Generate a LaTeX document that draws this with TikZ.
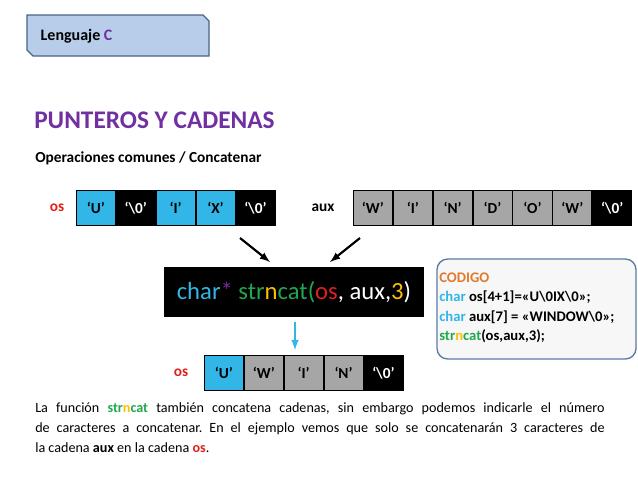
\documentclass[tikz,border=0pt]{standalone}
\usepackage{fontspec}
\setmainfont{Carlito}
\usetikzlibrary{positioning,shapes.misc}
\frenchspacing
\definecolor{cyanC}{HTML}{31B6E7}
\definecolor{grayC}{HTML}{A6A6A6}
\definecolor{purpleC}{HTML}{7030A0}
\definecolor{redC}{HTML}{E0201B}
\definecolor{greenC}{HTML}{1FA84F}
\definecolor{yellowC}{HTML}{FFC000}
\definecolor{orangeC}{HTML}{E07B2E}
\definecolor{headC}{HTML}{B7CDEA}
\definecolor{headB}{HTML}{4A6484}
\definecolor{codeB}{HTML}{5A7BA6}
\tikzset{
  cell/.style={draw=black,line width=0.6pt,minimum width=29.3pt,minimum height=26pt,
    inner sep=0pt,font=\fontsize{11.5}{13}\selectfont\bfseries,anchor=west},
  cyancell/.style={cell,fill=cyanC,text=black},
  blackcell/.style={cell,fill=black,text=white},
  graycell/.style={cell,fill=grayC,text=black},
  arrlabel/.style={font=\fontsize{11.5}{13}\selectfont\bfseries},
}
\begin{document}
\begin{tikzpicture}[x=0.75pt,y=-0.75pt]
\useasboundingbox (0,0) rectangle (638,479);
% header
\draw[headB,fill=headC,line width=0.8pt] (27,15) -- (203,15) -- (209,21) -- (209,56) -- (33,56) -- (27,50) -- cycle;
\node[anchor=west,font=\fontsize{12}{14}\selectfont\bfseries] (head) at (36,36) {Lenguaje \textcolor{purpleC}{C}};
\node[anchor=west,font=\fontsize{19}{22}\selectfont\bfseries,text=purpleC,inner sep=0pt] (title) at (34,120) {PUNTEROS Y CADENAS};
\node[anchor=west,font=\fontsize{11.5}{13}\selectfont\bfseries,inner sep=0pt] (sub) at (35,158) {Operaciones comunes / Concatenar};

% os
\node[arrlabel,text=redC] (oslbl) at (57,208) {os};
\node[cyancell] (os1) at (76,208) {‘U’};
\node[blackcell,right=0pt of os1] (os2) {‘\textbackslash0’};
\node[cyancell,right=0pt of os2] (os3) {‘I’};
\node[cyancell,right=0pt of os3] (os4) {‘X’};
\node[blackcell,right=0pt of os4] (os5) {‘\textbackslash0’};

% aux
\node[arrlabel] (auxlbl) at (323,208) {aux};
\node[graycell] (aux1) at (353,208) {‘W’};
\node[graycell,right=0pt of aux1] (aux2) {‘I’};
\node[graycell,right=0pt of aux2] (aux3) {‘N’};
\node[graycell,right=0pt of aux3] (aux4) {‘D’};
\node[graycell,right=0pt of aux4] (aux5) {‘O’};
\node[graycell,right=0pt of aux5] (aux6) {‘W’};
\node[blackcell,right=0pt of aux6] (aux7) {‘\textbackslash0’};

% function
\node[fill=black,minimum width=195pt,minimum height=37.5pt,inner sep=0pt,
  font=\fontsize{18.5}{22}\selectfont,text=white] (func) at (294,292)
  {\textcolor{cyanC}{char}\textcolor{purpleC}{*} \textcolor{greenC}{str\textcolor{yellowC}{n}cat(}\textcolor{redC}{os}, aux,\textcolor{yellowC}{3})};
\coordinate (a1) at (240,238);
\coordinate (a1e) at (270,262);
\coordinate (a2) at (360,238);
\coordinate (a2e) at (330,262);
\draw[-latex,line width=1.6pt] (a1) -- (a1e);
\draw[-latex,line width=1.6pt] (a2) -- (a2e);
\draw[-latex,line width=1.6pt,cyanC] (func.south -| 295,0) ++(0,5) coordinate (b1) -- (295,350);

% result
\node[arrlabel,text=redC] (reslbl) at (181,373) {os};
\node[cyancell] (res1) at (204,373) {‘U’};
\node[graycell,right=0pt of res1] (res2) {‘W’};
\node[graycell,right=0pt of res2] (res3) {‘I’};
\node[graycell,right=0pt of res3] (res4) {‘N’};
\node[blackcell,right=0pt of res4] (res5) {‘\textbackslash0’};

% code
\draw[codeB,fill=black!3,line width=1pt,rounded corners=8pt] (437,259) rectangle (636,359);
\node[anchor=north west,align=left,inner sep=0pt,font=\fontsize{11}{14.3}\selectfont\bfseries] (code) at (439,273)
  {\textcolor{orangeC}{CODIGO}\\
   \textcolor{cyanC}{char} os[4+1]=«U\textbackslash0IX\textbackslash0»;\\
   \textcolor{cyanC}{char} aux[7] = «WINDOW\textbackslash0»;\\
   \textcolor{greenC}{str\textcolor{yellowC}{n}cat}(os,aux,3);};

% paragraph
\node[anchor=north west,inner sep=0pt,text width=427pt,align=justify,
  font=\fontsize{10.6}{15}\selectfont] (par) at (35,402)
  {\hyphenchar\font=-1 La función \textbf{\textcolor{greenC}{str\textcolor{yellowC}{n}cat}} también concatena cadenas, sin embargo podemos indicarle el número\linebreak{} de caracteres a concatenar. En el ejemplo vemos que solo se concatenarán 3 caracteres de\linebreak{} la cadena \textbf{aux} en la cadena \textbf{\textcolor{redC}{os}}.};
\end{tikzpicture}
\end{document}
